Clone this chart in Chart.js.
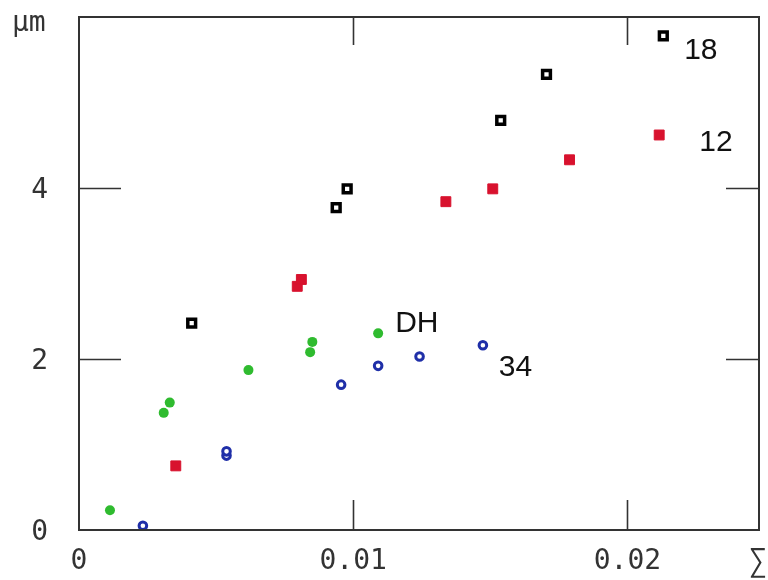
<!DOCTYPE html>
<html>
<head>
<meta charset="utf-8">
<script src="https://cdn.jsdelivr.net/npm/chart.js@4/dist/chart.umd.min.js"></script>
<style>
  html, body { margin: 0; padding: 0; background: #fff; }
  canvas { display: block; }
</style>
</head>
<body>
<canvas id="plot" width="768" height="580"></canvas>
<script>
// axis ticks
const xTicks = [0, 0.01, 0.02];
const xTickLabels = ['0', '0.01', '0.02'];
const yTicks = [0, 2, 4];
const yTickLabels = ['0', '2', '4'];

// series "18" (open black squares)
const s18x = [0.00411, 0.00938, 0.00978, 0.01538, 0.01705, 0.02131];
const s18y = [2.42, 3.77, 3.99, 4.79, 5.33, 5.78];

// series "12" (red squares)
const s12x = [0.00353, 0.00796, 0.00811, 0.01338, 0.01509, 0.01789, 0.02116];
const s12y = [0.75, 2.85, 2.93, 3.84, 3.99, 4.33, 4.62];

// series "DH" (green dots)
const sDHx = [0.00113, 0.00309, 0.00331, 0.00618, 0.00843, 0.00851, 0.01091];
const sDHy = [0.23, 1.37, 1.49, 1.87, 2.08, 2.20, 2.30];

// series "34" (open blue circles)
const s34x = [0.00233, 0.00538, 0.00538, 0.00956, 0.01091, 0.01242, 0.01473];
const s34y = [0.05, 0.87, 0.92, 1.70, 1.92, 2.03, 2.16];

// series name labels, placed in data units
const seriesNames = ['18', '12', 'DH', '34'];
const nameX = [0.02207, 0.02262, 0.01153, 0.01531];
const nameY = [5.62, 4.54, 2.42, 1.91];

function pts(xs, ys) {
    return xs.map(function(x, i) { return { x: x, y: ys[i] }; });
}

const framePlugin = {
    id: 'frame',
    afterDraw: function(chart) {
        const ctx = chart.ctx;
        const a = chart.chartArea;
        const xs = chart.scales.x;
        const ys = chart.scales.y;
        ctx.save();
        ctx.strokeStyle = '#333';
        ctx.lineWidth = 2;
        ctx.strokeRect(a.left, a.top, a.right - a.left, a.bottom - a.top);

        ctx.lineWidth = 1.6;
        ctx.beginPath();
        xTicks.forEach(function(v) {
            if (v === 0) return;
            const px = Math.round(xs.getPixelForValue(v)) + 0.5;
            ctx.moveTo(px, a.bottom); ctx.lineTo(px, a.bottom - 30);
            ctx.moveTo(px, a.top); ctx.lineTo(px, a.top + 28);
        });
        yTicks.forEach(function(v) {
            if (v === 0) return;
            const py = Math.round(ys.getPixelForValue(v)) + 0.5;
            ctx.moveTo(a.left, py); ctx.lineTo(a.left + 42, py);
            ctx.moveTo(a.right, py); ctx.lineTo(a.right - 33, py);
        });
        ctx.stroke();

        ctx.fillStyle = '#333';
        ctx.font = '28px "DejaVu Sans Mono", monospace';
        ctx.textBaseline = 'middle';
        ctx.textAlign = 'center';
        xTicks.forEach(function(v, i) {
            ctx.fillText(xTickLabels[i], xs.getPixelForValue(v), a.bottom + 32);
        });
        ctx.font = '31px "DejaVu Sans Mono", monospace';
        ctx.fillText('\u2211', 758, a.bottom + 33);
        ctx.font = '28px "DejaVu Sans Mono", monospace';
        ctx.textAlign = 'right';
        yTicks.forEach(function(v, i) {
            ctx.fillText(yTickLabels[i], 48, ys.getPixelForValue(v) + 3);
        });
        ctx.textAlign = 'left';
        ctx.font = '28px "DejaVu Sans Mono", monospace';
        ctx.fillText('\u00b5m', 12, 24);

        ctx.fillStyle = '#111';
        ctx.font = '30px "Liberation Sans", Arial, sans-serif';
        seriesNames.forEach(function(name, i) {
            ctx.fillText(name, xs.getPixelForValue(nameX[i]), ys.getPixelForValue(nameY[i]) + 1);
        });
        ctx.restore();
    }
};

const chart = new Chart(document.getElementById('plot').getContext('2d'), {
    type: 'scatter',
    data: {
        datasets: [{
            label: '18',
            data: pts(s18x, s18y),
            pointStyle: 'rect',
            pointRadius: 5.5,
            borderWidth: 3.5,
            borderColor: '#000',
            backgroundColor: '#fff'
        }, {
            label: '12',
            data: pts(s12x, s12y),
            pointStyle: 'rect',
            pointRadius: 7,
            borderWidth: 1,
            borderColor: '#d8122e',
            backgroundColor: '#d8122e'
        }, {
            label: 'DH',
            data: pts(sDHx, sDHy),
            pointStyle: 'circle',
            pointRadius: 5,
            borderWidth: 0,
            backgroundColor: '#2fbb2f'
        }, {
            label: '34',
            data: pts(s34x, s34y),
            pointStyle: 'circle',
            pointRadius: 3.8,
            borderWidth: 3,
            borderColor: '#1f2fa8',
            backgroundColor: '#fff'
        }]
    },
    options: {
        responsive: false,
        animation: false,
        layout: { padding: { left: 79, top: 17, right: 7, bottom: 50 } },
        scales: {
            x: { type: 'linear', min: 0, max: 0.0248, display: false },
            y: { type: 'linear', min: 0, max: 6, display: false }
        },
        plugins: {
            legend: { display: false },
            tooltip: { enabled: false }
        }
    },
    plugins: [framePlugin]
});
</script>
</body>
</html>
